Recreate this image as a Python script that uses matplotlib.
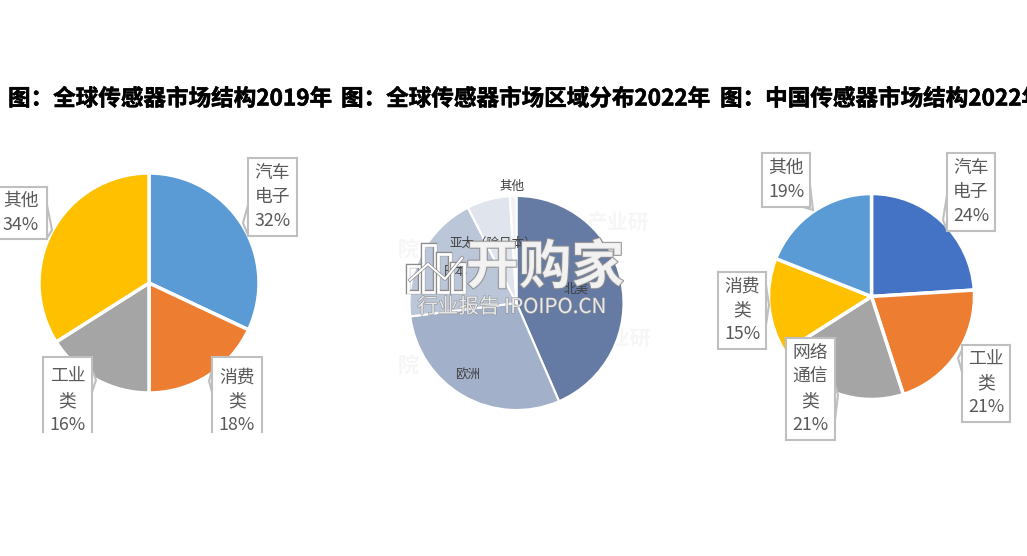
import matplotlib
matplotlib.use('Agg')
import matplotlib.pyplot as plt
import matplotlib.patheffects as pe
from matplotlib.patches import Polygon, Rectangle

plt.rcParams['font.family'] = ['Noto Sans CJK SC', 'DejaVu Sans']

W = 1027
H = 556

titles = ['图：全球传感器市场结构2019年', '图：全球传感器市场区域分布2022年', '图：中国传感器市场结构2022年']

labels_1 = ['汽车\n电子\n32%', '消费\n类\n18%', '工业\n类\n16%', '其他\n34%']
values_1 = [32, 18, 16, 34]
colors_1 = ['#5B9BD5', '#ED7D31', '#A5A5A5', '#FFC000']

labels_2 = ['北美', '欧洲', '日本', '亚太（除日本）', '其他']
values_2 = [43.5, 29.5, 19.5, 6.5, 1]
colors_2 = ['#667BA3', '#A2B0CA', '#BCC6D9', '#E0E4ED', '#F0F2F6']

labels_3 = ['汽车\n电子\n24%', '工业\n类\n21%', '网络\n通信\n类\n21%', '消费\n类\n15%', '其他\n19%']
values_3 = [24, 21, 21, 15, 19]
colors_3 = ['#4472C4', '#ED7D31', '#A5A5A5', '#FFC000', '#5B9BD5']


def Y(py):
    return H - py


def callout(ax, x0, y0, x1, y1, tip, base, text, cut=None):
    # box in picture pixels, cut = where the side lines stop when the bottom is missing
    end = cut if cut else y1
    c = '#BFBFBF'
    ax.add_patch(Polygon([(base[0][0], Y(base[0][1])), (tip[0], Y(tip[1])), (base[1][0], Y(base[1][1]))],
                         closed=True, fc='white', ec=c, lw=1.5, zorder=5))
    ax.add_patch(Rectangle((x0, Y(end)), x1 - x0, end - y0, fc='white', ec='none', zorder=6))
    ax.plot([x0, x0], [Y(y0), Y(end)], color=c, lw=1.5, zorder=7)
    ax.plot([x1, x1], [Y(y0), Y(end)], color=c, lw=1.5, zorder=7)
    ax.plot([x0, x1], [Y(y0), Y(y0)], color=c, lw=1.5, zorder=7)
    if not cut:
        ax.plot([x0, x1], [Y(y1), Y(y1)], color=c, lw=1.5, zorder=7)
    ax.text((x0 + x1) / 2, Y((y0 + y1) / 2), text, ha='center', va='center', fontsize=12.8,
            color='#595959', linespacing=1.42, zorder=8)


fig = plt.figure(figsize=(W / 100, H / 100), dpi=100)
ax = fig.add_axes([0, 0, 1, 1])

wedge = {'edgecolor': 'white', 'linewidth': 2.5}
ax.pie(values_1, colors=colors_1, center=(149, Y(283)), radius=110, startangle=90, counterclock=False,
       wedgeprops=wedge)
ax.pie(values_2, colors=colors_2, center=(516.5, Y(303)), radius=107, startangle=90, counterclock=False,
       wedgeprops={'edgecolor': 'white', 'linewidth': 1.5})
ax.pie(values_3, colors=colors_3, center=(871.5, Y(296.5)), radius=103, startangle=90, counterclock=False,
       wedgeprops=wedge)
ax.set_xlim(0, W)
ax.set_ylim(0, H)
ax.set_aspect('auto')
ax.axis('off')

for x, t in zip([8, 341, 720], titles):
    ax.text(x, Y(99), t, ha='left', va='center', fontsize=16.25, fontweight='bold', color='black', clip_on=True,
            path_effects=[pe.withStroke(linewidth=0.4, foreground='black')])

# left pie labels
callout(ax, 248, 158, 297, 236, (243, 223), ((248, 205), (248, 235)), labels_1[0])
callout(ax, 212, 357, 262, 445, (209, 381), ((212, 370), (212, 392)), labels_1[1], cut=432)
callout(ax, 43, 357, 92, 445, (96, 380), ((92, 370), (92, 392)), labels_1[2], cut=432)
callout(ax, -5, 187, 47, 239, (52, 230), ((47, 205), (47, 238)), labels_1[3])

# right pie labels
callout(ax, 947, 153, 995, 231, (943, 220), ((947, 195), (947, 230)), labels_3[0])
callout(ax, 962, 345, 1010, 422, (958, 358), ((962, 350), (962, 372)), labels_3[1])
callout(ax, 786, 338, 835, 440, (838, 395), ((835, 385), (835, 420)), labels_3[2])
callout(ax, 718, 272, 766, 349, (769, 305), ((766, 285), (766, 325)), labels_3[3])
callout(ax, 762, 153, 810, 207, (813, 210), ((803, 207), (810, 185)), labels_3[4])

# middle pie labels
for x, y, t in [(576, 289, labels_2[0]), (468, 375, labels_2[1]), (455, 272, labels_2[2]),
                (493, 243, labels_2[3]), (512, 186, labels_2[4])]:
    ax.text(x, Y(y), t, ha='center', va='center', fontsize=9, color='#404040', zorder=4)

# faint background marks behind the middle pie
for x, y, t in [(618, 222, '产业研'), (620, 338, '产业研'), (408, 250, '院'), (408, 366, '院')]:
    ax.text(x, Y(y), t, ha='center', va='center', fontsize=15, color='#F6F6F6', zorder=0, fontweight='bold')

# watermark
edge = [pe.withStroke(linewidth=1.5, foreground='#8C8C8C')]
ax.text(545, Y(268), '开购家', ha='center', va='center', fontsize=38, fontweight='bold', color='#F4F4F4',
        alpha=0.9, zorder=9, path_effects=edge)
ax.text(512, Y(307), '行业报告 IPOIPO.CN', ha='center', va='center', fontsize=14.8, color='#EDEDED', alpha=0.9,
        zorder=10, path_effects=[pe.withStroke(linewidth=0.8, foreground='#8C8C8C')])
for x, top in zip([408, 423, 438, 452], [266, 245, 254, 264]):
    ax.add_patch(Rectangle((x, Y(292)), 12, 292 - top, fc='none', ec='white', lw=2, zorder=9,
                           path_effects=[pe.withStroke(linewidth=3.2, foreground='#8C8C8C')]))
ax.plot([410, 428, 445, 462], [Y(280), Y(264), Y(279), Y(258)], color='white', lw=1.5, zorder=10,
        path_effects=[pe.withStroke(linewidth=2.5, foreground='#8C8C8C')])

fig.savefig('out.png', dpi=100)
